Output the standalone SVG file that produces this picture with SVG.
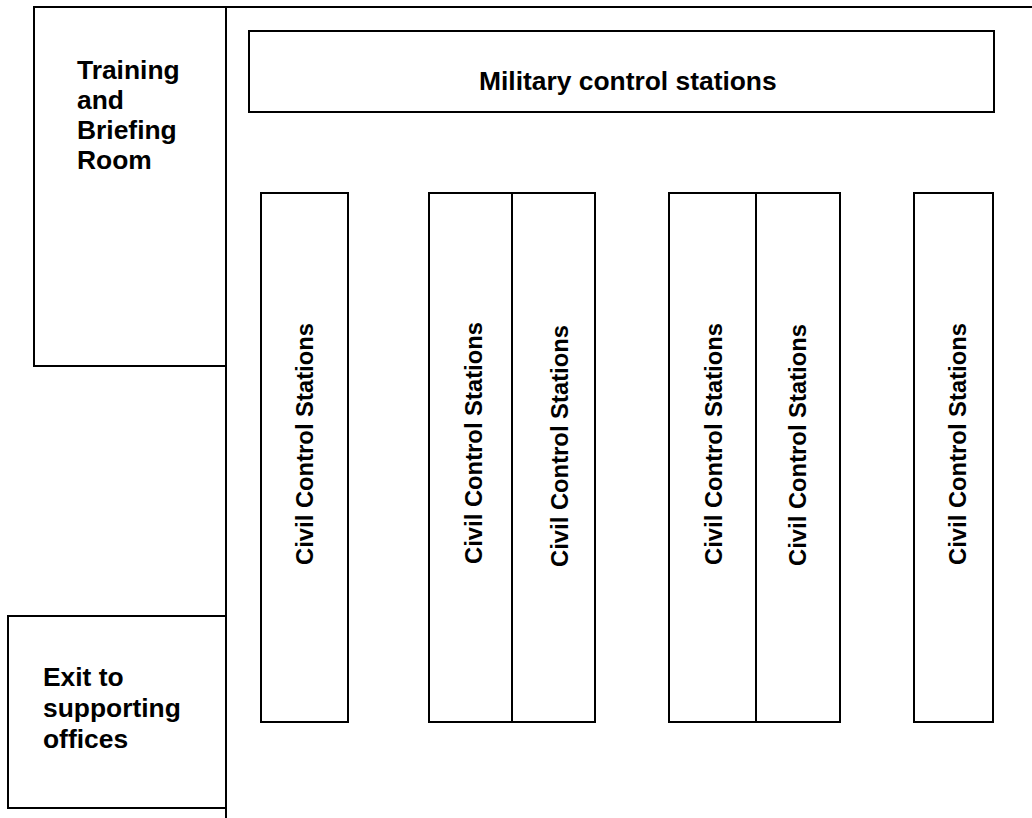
<svg xmlns="http://www.w3.org/2000/svg" width="1032" height="818" viewBox="0 0 1032 818">
  <style>
    .wall { fill: none; stroke: #000; stroke-width: 2; }
    .box { fill: #fff; stroke: #000; stroke-width: 2; }
    .lbl { font-family: "Liberation Sans", Arial, sans-serif; font-weight: bold; fill: #000; }
    .big { font-size: 26.4px; }
    .civ { font-size: 23.8px; text-anchor: middle; }
  </style>
  <rect width="1032" height="818" fill="#fff"/>

  <!-- room outline: top wall and dividing wall -->
  <g id="walls">
    <line class="wall" x1="34" y1="7" x2="1032" y2="7"/>
    <line class="wall" x1="226" y1="7" x2="226" y2="818"/>
  </g>

  <g id="training-room">
    <rect class="box" x="34" y="7" width="192" height="359"/>
    <text class="lbl big" x="77" y="79">Training</text>
    <text class="lbl big" x="77" y="109">and</text>
    <text class="lbl big" x="77" y="139">Briefing</text>
    <text class="lbl big" x="77" y="169">Room</text>
  </g>

  <g id="exit">
    <rect class="box" x="8" y="616" width="218" height="192"/>
    <text class="lbl big" x="43" y="686">Exit to</text>
    <text class="lbl big" x="43" y="717">supporting</text>
    <text class="lbl big" x="43" y="748">offices</text>
  </g>

  <g id="military">
    <rect class="box" x="249" y="31" width="745" height="81"/>
    <text class="lbl big" x="479" y="90">Military control stations</text>
  </g>

  <g id="civil-1">
    <rect class="box" x="261" y="193" width="87" height="529"/>
    <text class="lbl civ" transform="translate(313 444) rotate(-90)">Civil Control Stations</text>
  </g>
  <g id="civil-2">
    <rect class="box" x="429" y="193" width="83" height="529"/>
    <text class="lbl civ" transform="translate(482 443) rotate(-90)">Civil Control Stations</text>
  </g>
  <g id="civil-3">
    <rect class="box" x="512" y="193" width="83" height="529"/>
    <text class="lbl civ" transform="translate(568 446) rotate(-90)">Civil Control Stations</text>
  </g>
  <g id="civil-4">
    <rect class="box" x="669" y="193" width="87" height="529"/>
    <text class="lbl civ" transform="translate(722 444) rotate(-90)">Civil Control Stations</text>
  </g>
  <g id="civil-5">
    <rect class="box" x="756" y="193" width="84" height="529"/>
    <text class="lbl civ" transform="translate(806 445) rotate(-90)">Civil Control Stations</text>
  </g>
  <g id="civil-6">
    <rect class="box" x="914" y="193" width="79" height="529"/>
    <text class="lbl civ" transform="translate(966 444) rotate(-90)">Civil Control Stations</text>
  </g>

  <g id="connectors"></g>
</svg>
